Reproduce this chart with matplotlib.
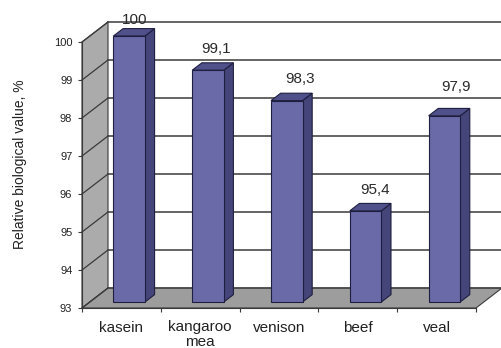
import matplotlib
matplotlib.use("Agg")
import matplotlib.pyplot as plt
from matplotlib.patches import Polygon, Rectangle

plt.rcParams["font.family"] = ["Liberation Sans", "DejaVu Sans"]

categories = ["kasein", "kangaroo\nmea", "venison", "beef", "veal"]
values = [100, 99.1, 98.3, 95.4, 97.9]
value_labels = ["100", "99,1", "98,3", "95,4", "97,9"]
yticks = [93, 94, 95, 96, 97, 98, 99, 100]

# pseudo-3D depth offset (data units) and bar depth placement
DX, DY = 0.33, 0.526
D_FRONT, D_BAR = 0.3, 0.37
BAR_W = 0.4
YMIN, YMAX = 93, 100
# label offsets (points) above the back edge of each bar top, as placed in the original
lab_dx = [-3, -1, 3, 0, 2]
lab_dy = [6, 10, 10.5, 10, 15.5]

front_col = "#6a6aa8"
side_col = "#45457a"
top_col = "#50508a"
edge_col = "#1e1e40"
wall_col = "#ababab"
floor_col = "#9d9d9d"
line_col = "#3a3a3a"

fig = plt.figure(figsize=(5.01, 3.48), dpi=100)
ax = fig.add_axes([82 / 501, 40 / 348, 394 / 501, 266 / 348])
ax.set_xlim(0, 5)
ax.set_ylim(YMIN, YMAX)
ax.patch.set_visible(False)

# left side wall
ax.add_patch(Polygon([(0, YMIN), (DX, YMIN + DY), (DX, YMAX + DY), (0, YMAX)],
                     closed=True, facecolor=wall_col, edgecolor=line_col,
                     lw=0.8, clip_on=False, zorder=1))
# floor
ax.add_patch(Polygon([(0, YMIN), (5, YMIN), (5 + DX, YMIN + DY), (DX, YMIN + DY)],
                     closed=True, facecolor=floor_col, edgecolor=line_col,
                     lw=0.8, clip_on=False, zorder=1))

# back wall gridlines and side-wall diagonals
for v in yticks:
    ax.plot([DX, 5 + DX], [v + DY, v + DY], color="#4a4a4a", lw=1.2,
            clip_on=False, zorder=2)
    ax.plot([0, DX], [v, v + DY], color=line_col, lw=0.9,
            clip_on=False, zorder=2)

# bars
for i, (v, lab) in enumerate(zip(values, value_labels)):
    x0 = i + 0.5 - BAR_W / 2 + D_FRONT * DX
    y0 = YMIN + D_FRONT * DY
    yt = v + D_FRONT * DY
    ddx, ddy = D_BAR * DX, D_BAR * DY
    ax.add_patch(Polygon([(x0 + BAR_W, y0), (x0 + BAR_W + ddx, y0 + ddy),
                          (x0 + BAR_W + ddx, yt + ddy), (x0 + BAR_W, yt)],
                         closed=True, facecolor=side_col, edgecolor=edge_col,
                         lw=0.8, clip_on=False, zorder=4))
    ax.add_patch(Polygon([(x0, yt), (x0 + BAR_W, yt),
                          (x0 + BAR_W + ddx, yt + ddy), (x0 + ddx, yt + ddy)],
                         closed=True, facecolor=top_col, edgecolor=edge_col,
                         lw=0.8, clip_on=False, zorder=4))
    ax.add_patch(Rectangle((x0, y0), BAR_W, v - YMIN, facecolor=front_col,
                           edgecolor=edge_col, lw=0.8, clip_on=False, zorder=5))
    ax.annotate(lab, (i + 0.5 + 0.216, yt + ddy), textcoords="offset points",
                xytext=(lab_dx[i], lab_dy[i]), ha="center", va="center",
                fontsize=11, color="#2a2a2a", zorder=6, annotation_clip=False)

# axes lines and ticks
for s in ["top", "right"]:
    ax.spines[s].set_visible(False)
ax.spines["left"].set_color(line_col)
ax.spines["bottom"].set_color(line_col)
ax.spines["left"].set_zorder(3)
ax.spines["bottom"].set_zorder(3)

ax.set_yticks(yticks)
ax.set_yticklabels([str(t) for t in yticks])
ax.tick_params(axis="y", length=3, width=0.8, color=line_col, pad=4,
               labelsize=8, labelcolor="#222222")

ax.set_xticks(range(6))
ax.set_xticklabels([])
ax.set_xticks([i + 0.5 for i in range(5)], minor=True)
ax.set_xticklabels(categories, minor=True)
ax.tick_params(axis="x", which="major", length=3, width=0.8, color=line_col)
ax.tick_params(axis="x", which="minor", length=0, pad=9, labelsize=11,
               labelcolor="#222222")
for t in ax.get_xticklabels(minor=True):
    t.set_linespacing(1.0)

fig.text(20 / 501, 1 - 164 / 348, "Relative biological value, %", rotation=90,
         ha="center", va="center", fontsize=10, color="#222222")

fig.savefig("out.png", dpi=100)
